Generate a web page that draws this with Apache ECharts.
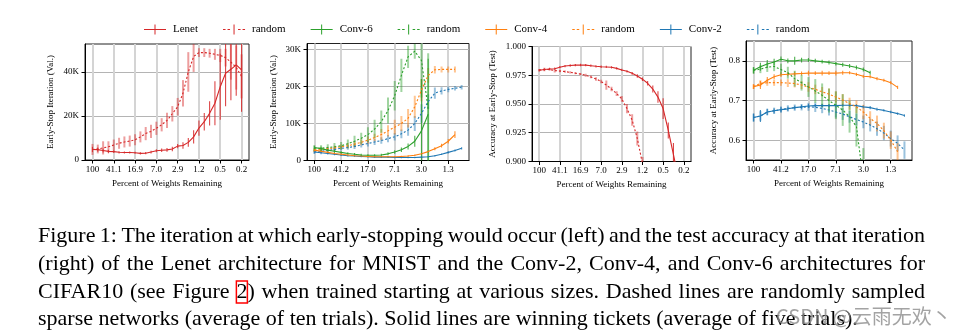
<!DOCTYPE html>
<html><head><meta charset="utf-8">
<script src="https://cdn.jsdelivr.net/npm/echarts@6/dist/echarts.min.js"></script>
<style>html,body{margin:0;padding:0;background:#fff}#c{width:974px;height:333px}</style>
</head><body><div id="c"></div>
<script>
// ---------- tick labels ----------
const lenetTicks = ['100','41.1','16.9','7.0','2.9','1.2','0.5','0.2'];
const convTicks = ['100','41.2','17.0','7.1','3.0','1.3'];
const iterTicksLenet = [0,20,40];
const iterTicksConv = [0,10,20,30];
const accTicksLenet = [0.9,0.925,0.95,0.975,1.0];
const accTicksConv = [0.6,0.7,0.8];

// ---------- Panel 1: Lenet early-stop iteration (K) ----------
const lenetIter = [4.8,4.7,4.3,3.9,3.8,3.5,3.4,3.4,3.3,3.0,3.1,3.6,4.2,4.4,4.6,5.0,6.3,6.6,8.0,10.5,14.5,17.4,21.2,25.8,33.3,39.4,41.2,43.2,40.9];
const lenetIterErr = [1.2,1.0,0.9,0.8,0.6,0.5,0.5,0.5,0.5,0.5,0.5,0.6,0.7,0.8,0.9,1.0,1.0,1.5,2.0,3.0,3.5,4.0,5.5,10.0,15.0,15.0,14.0,14.0,19.0];
const lenetIterRand = [4.8,5.0,5.5,6.0,6.8,7.6,8.2,8.6,9.2,10.5,12.0,13.0,14.4,16.0,18.0,21.0,24.2,30.3,40.0,47.0,48.8,48.8,48.5,48.0,47.5,46.5,44.5,42.0,38.0];
const lenetIterRandErr = [2.5,2.0,3.0,2.5,2.5,2.5,2.5,2.5,2.5,2.5,3.0,3.0,3.0,3.0,3.5,3.5,4.0,6.0,9.0,7.0,2.0,2.0,2.0,2.5,3.0,4.0,8.0,10.0,10.0];

// ---------- Panel 2: Conv early-stop iteration (K) ----------
const conv6Iter = [3.5,3.2,2.8,2.5,2.2,1.9,1.7,1.5,1.4,1.4,1.5,1.8,2.3,2.9,3.8,5.2,8.0,12.5];
const conv6IterErr = [0.5,0.5,0.4,0.4,0.3,0.3,0.3,0.3,0.3,0.3,0.3,0.4,0.5,0.6,0.8,1.5,14,15];
const conv6IterRand = [3.3,3.3,3.5,3.7,4.0,4.5,5.2,6.0,7.0,8.5,10.5,13.5,17.5,23.0,28.0,29.5,27.0,14.0];
const conv6IterRandErr = [0.8,0.8,0.9,1.0,1.0,1.2,1.5,1.5,2.0,2.5,3.0,3.5,4.0,4.5,3.0,2.0,10,15];
const conv4Iter = [2.8,2.5,2.2,1.9,1.7,1.5,1.3,1.2,1.1,1.0,1.0,1.0,1.0,1.1,1.2,1.4,1.8,2.4,3.2,4.0,5.2,7.0];
const conv4IterErr = [0.4,0.4,0.3,0.3,0.3,0.2,0.2,0.2,0.2,0.2,0.2,0.2,0.2,0.2,0.2,0.2,0.3,0.3,0.4,0.5,0.6,0.9];
const conv4IterRand = [2.8,3.0,3.2,3.4,3.7,4.0,4.4,4.9,5.5,6.2,7.0,8.0,9.0,10.0,11.4,14.5,19.0,23.0,24.5,24.6,24.6,24.6];
const conv4IterRandErr = [0.5,0.5,0.5,0.6,0.6,0.7,0.8,0.8,1.0,1.0,1.5,1.5,2.0,2.0,2.5,3.0,3.0,2.0,1.0,0.8,0.8,0.8];
const conv2Iter = [2.3,2.1,1.9,1.7,1.5,1.3,1.2,1.1,1.0,0.9,0.9,0.9,0.8,0.8,0.8,0.8,0.9,1.0,1.3,1.7,2.2,2.7,3.3];
const conv2IterErr = [0.4,0.4,0.3,0.3,0.3,0.2,0.2,0.2,0.2,0.2,0.2,0.2,0.2,0.2,0.2,0.2,0.2,0.2,0.2,0.2,0.3,0.3,0.3];
const conv2IterRand = [2.3,2.5,2.7,3.0,3.3,3.5,3.8,4.2,4.6,5.0,5.4,5.9,6.4,7.2,8.2,10.0,12.7,15.9,18.2,18.8,19.2,19.5,19.8];
const conv2IterRandErr = [0.5,0.5,0.5,0.6,0.6,0.6,0.7,0.7,0.8,0.8,0.9,1.0,1.0,1.2,1.5,2.0,2.5,2.0,1.5,1.0,0.8,0.6,0.6];

// ---------- Panel 3: Lenet accuracy ----------
const lenetAcc = [0.9793,0.9800,0.9805,0.9807,0.9820,0.9830,0.9835,0.9838,0.9839,0.9838,0.9833,0.9828,0.9824,0.9822,0.9819,0.9810,0.9796,0.9784,0.9767,0.9744,0.9716,0.9680,0.9630,0.9560,0.9460,0.9270,0.9060,0.8850];
const lenetAccErr = [0.001,0.001,0.001,0.001,0.001,0.001,0.001,0.001,0.001,0.001,0.001,0.001,0.001,0.001,0.001,0.001,0.001,0.001,0.0012,0.0015,0.0015,0.002,0.003,0.005,0.009,0.007,0.010,0.012];
const lenetAccRand = [0.9795,0.9800,0.9800,0.9790,0.9787,0.9782,0.9775,0.9768,0.9760,0.9750,0.9735,0.9718,0.9695,0.9665,0.9630,0.9590,0.9545,0.9460,0.9360,0.9200,0.8980];
const lenetAccRandErr = [0.001,0.0015,0.001,0.0015,0.001,0.001,0.001,0.001,0.001,0.0012,0.0012,0.0015,0.0015,0.004,0.002,0.002,0.0025,0.004,0.005,0.006,0.006];

// ---------- Panel 4: Conv accuracy ----------
const conv6Acc = [0.776,0.785,0.792,0.797,0.804,0.800,0.800,0.802,0.802,0.800,0.798,0.796,0.793,0.790,0.787,0.783,0.778,0.770];
const conv6AccErr = [0.008,0.010,0.010,0.008,0.007,0.006,0.010,0.006,0.005,0.005,0.005,0.005,0.005,0.005,0.005,0.005,0.005,0.005];
const conv6AccRand = [0.776,0.779,0.784,0.786,0.778,0.770,0.755,0.745,0.734,0.724,0.713,0.700,0.688,0.676,0.659,0.634,0.500];
const conv6AccRandErr = [0.008,0.010,0.012,0.012,0.015,0.015,0.020,0.020,0.025,0.030,0.030,0.030,0.035,0.040,0.040,0.050,0.080];
const conv4Acc = [0.735,0.739,0.751,0.760,0.765,0.766,0.767,0.768,0.769,0.769,0.769,0.769,0.769,0.770,0.770,0.766,0.761,0.760,0.755,0.751,0.745,0.733];
const conv4AccErr = [0.006,0.010,0.008,0.006,0.006,0.005,0.006,0.005,0.006,0.005,0.006,0.005,0.006,0.005,0.004,0.004,0.004,0.004,0.004,0.004,0.004,0.004];
const conv4AccRand = [0.735,0.743,0.745,0.745,0.745,0.744,0.743,0.739,0.734,0.728,0.722,0.716,0.709,0.701,0.692,0.684,0.671,0.655,0.642,0.624,0.600,0.571];
const conv4AccRandErr = [0.006,0.008,0.008,0.008,0.008,0.010,0.010,0.010,0.012,0.012,0.012,0.014,0.014,0.015,0.015,0.016,0.018,0.018,0.020,0.020,0.022,0.022];
const conv2Acc = [0.657,0.661,0.671,0.674,0.677,0.679,0.682,0.684,0.686,0.687,0.687,0.687,0.687,0.688,0.688,0.687,0.684,0.682,0.678,0.675,0.671,0.667,0.662];
const conv2AccErr = [0.010,0.015,0.008,0.006,0.006,0.005,0.005,0.005,0.005,0.004,0.004,0.004,0.004,0.004,0.004,0.004,0.004,0.004,0.004,0.003,0.003,0.003,0.003];
const conv2AccRand = [0.657,0.661,0.671,0.674,0.677,0.680,0.682,0.683,0.684,0.683,0.680,0.676,0.671,0.666,0.659,0.652,0.646,0.638,0.629,0.618,0.604,0.592,0.575];
const conv2AccRandErr = [0.010,0.012,0.008,0.008,0.008,0.008,0.008,0.008,0.010,0.012,0.012,0.014,0.014,0.015,0.015,0.015,0.016,0.016,0.018,0.018,0.020,0.020,0.022];

// ---------- caption text ----------
const captionLines = [
  'Figure 1: The iteration at which early-stopping would occur (left) and the test accuracy at that iteration',
  '(right) of the Lenet architecture for MNIST and the Conv-2, Conv-4, and Conv-6 architectures for',
  'CIFAR10 (see Figure 2) when trained starting at various sizes. Dashed lines are randomly sampled',
  'sparse networks (average of ten trials). Solid lines are winning tickets (average of five trials).'
];
const watermark = 'CSDN @云雨无欢丶';

// ---------- styling ----------
const RED='#d62728', GREEN='#2ca02c', ORANGE='#ff7f0e', BLUE='#1f77b4';
const SERIF = 'Liberation Serif';
const chart = echarts.init(document.getElementById('c'), null, {renderer:'canvas'});

const gridsPos = [
  {left:85, top:44, width:164, height:116},
  {left:307, top:43.5, width:162, height:117},
  {left:532, top:46.5, width:159, height:115},
  {left:746, top:41, width:166, height:119}
];

function xAxisCfg(g, ticks, min, max) {
  const vals = ticks.map((t,i)=>i*4);
  return {
    type:'value', gridIndex:g, min, max,
    axisLine:{show:true, onZero:false, lineStyle:{color:'#000', width:1}},
    axisTick:{show:true, customValues:vals, length:3.5, lineStyle:{color:'#000', width:1}},
    axisLabel:{customValues:vals, formatter:v=>ticks[Math.round(v/4)], fontFamily:SERIF, fontSize:9, color:'#000', margin:5},
    splitLine:{show:true, lineStyle:{color:'#d4d4d4', width:2}},
    name:'Percent of Weights Remaining', nameLocation:'middle', nameGap:19,
    nameTextStyle:{fontFamily:SERIF, fontSize:9, color:'#000'}
  };
}
function yAxisCfg(g, ticks, min, max, fmt, name, gap) {
  return {
    type:'value', gridIndex:g, min, max,
    axisLine:{show:true, onZero:false, lineStyle:{color:'#000', width:1}},
    axisTick:{show:true, customValues:ticks, length:3.5, lineStyle:{color:'#000', width:1}},
    axisLabel:{customValues:ticks, formatter:fmt, fontFamily:SERIF, fontSize:9, color:'#000', margin:6},
    splitLine:{show:true, lineStyle:{color:'#b4b4b4', width:1}},
    name, nameLocation:'middle', nameGap:gap,
    nameTextStyle:{fontFamily:SERIF, fontSize:9, color:'#000'}
  };
}
const kFmt = v => v===0 ? '0' : Math.round(v)+'K';

const series = [];
function addLine(g, name, color, dashed, vals, errs) {
  series.push({
    type:'custom', name, xAxisIndex:g, yAxisIndex:g, clip:true, silent:true, z:2,
    data: vals.map((v,i)=>[i, v-errs[i], v+errs[i]]),
    encode:{x:0, y:[1,2]},
    renderItem:(p, api)=>{
      const a = api.coord([api.value(0), api.value(1)]);
      const b = api.coord([api.value(0), api.value(2)]);
      return {type:'line', shape:{x1:a[0], y1:a[1], x2:b[0], y2:b[1]},
        style:{stroke:color, lineWidth: dashed?2:1.1, opacity: dashed?0.45:0.85}};
    }
  });
  series.push({
    type:'line', name, xAxisIndex:g, yAxisIndex:g, clip:true, silent:true, z:3,
    data: vals.map((v,i)=>[i,v]), symbol:'none',
    lineStyle:{color, width:1.1, type: dashed ? [2,2] : 'solid'},
    itemStyle:{color}
  });
}
addLine(0,'random|r',RED,true,lenetIterRand,lenetIterRandErr);
addLine(0,'Lenet',RED,false,lenetIter,lenetIterErr);

addLine(1,'random|b',BLUE,true,conv2IterRand,conv2IterRandErr);
addLine(1,'Conv-2',BLUE,false,conv2Iter,conv2IterErr);
addLine(1,'random|o',ORANGE,true,conv4IterRand,conv4IterRandErr);
addLine(1,'Conv-4',ORANGE,false,conv4Iter,conv4IterErr);
addLine(1,'random|g',GREEN,true,conv6IterRand,conv6IterRandErr);
addLine(1,'Conv-6',GREEN,false,conv6Iter,conv6IterErr);

addLine(2,'random|r',RED,true,lenetAccRand,lenetAccRandErr);
addLine(2,'Lenet',RED,false,lenetAcc,lenetAccErr);

addLine(3,'random|b',BLUE,true,conv2AccRand,conv2AccRandErr);
addLine(3,'Conv-2',BLUE,false,conv2Acc,conv2AccErr);
addLine(3,'random|o',ORANGE,true,conv4AccRand,conv4AccRandErr);
addLine(3,'Conv-4',ORANGE,false,conv4Acc,conv4AccErr);
addLine(3,'random|g',GREEN,true,conv6AccRand,conv6AccRandErr);
addLine(3,'Conv-6',GREEN,false,conv6Acc,conv6AccErr);

const solidIcon = 'path://M0,4.5H22V5.5H0Z M10.5,0H11.5V10H10.5Z';
const dashIcon = 'path://M0,4.5H2.5V5.5H0Z M4.5,4.5H7V5.5H4.5Z M10.5,0H11.5V10H10.5Z M15,4.5H17.5V5.5H15Z M19.5,4.5H22V5.5H19.5Z';
const legendItems = [
  ['Lenet',RED,solidIcon],['random|r',RED,dashIcon],
  ['Conv-6',GREEN,solidIcon],['random|g',GREEN,dashIcon],
  ['Conv-4',ORANGE,solidIcon],['random|o',ORANGE,dashIcon],
  ['Conv-2',BLUE,solidIcon],['random|b',BLUE,dashIcon]
];

// justified caption layout (word placement only)
const captionFont = '22px "Liberation Serif"';
const capLeft = 38, capRight = 925, capTops = [225, 253, 281, 308];
function captionGraphics() {
  const ctx = document.createElement('canvas').getContext('2d');
  ctx.font = captionFont;
  const els = [];
  const spaceW = ctx.measureText(' ').width;
  captionLines.forEach((line, li) => {
    const words = line.split(' ');
    const widths = words.map(w => ctx.measureText(w).width);
    const total = widths.reduce((a,b)=>a+b, 0);
    const justify = li < captionLines.length - 1;
    const gap = justify ? (capRight - capLeft - total) / (words.length - 1) : spaceW;
    let x = capLeft;
    words.forEach((w, i) => {
      let style;
      if (w === '2)') {
        style = {text:'{b|2}{a|)}', rich:{a:{font:captionFont, fill:'#000'},
          b:{font:captionFont, fill:'#000', borderColor:'#ff0000', borderWidth:1.5, padding:[0,0,0,0]}}};
      } else {
        style = {text:w};
      }
      els.push({type:'text', x, y:capTops[li], silent:true,
        style:Object.assign({font:captionFont, fill:'#000', verticalAlign:'top', align:'left'}, style)});
      x += widths[i] + gap;
    });
  });
  els.push({type:'text', x:776, y:306, silent:true, z:10,
    style:{text:watermark, font:'20px "Noto Sans CJK SC"', fill:'rgba(140,140,140,0.8)', verticalAlign:'top'}});
  return els;
}

const option = {
  animation:false,
  backgroundColor:'#fff',
  legend:{
    left:144, top:24, itemWidth:22, itemHeight:10, itemGap:25, padding:0,
    data: legendItems.map(([n,c,ic])=>({name:n, icon:ic, itemStyle:{color:c, borderWidth:0}})),
    formatter: n => n.split('|')[0],
    textStyle:{fontFamily:SERIF, fontSize:11, color:'#000', padding:[0,0,0,2]},
    selectedMode:false
  },
  grid: gridsPos.map(p=>Object.assign({show:true, borderColor:'#222', borderWidth:1, backgroundColor:'transparent'}, p)),
  xAxis:[
    xAxisCfg(0, lenetTicks, -1.4, 29.4),
    xAxisCfg(1, convTicks, -1.1, 23.1),
    xAxisCfg(2, lenetTicks, -1.4, 29.4),
    xAxisCfg(3, convTicks, -1.1, 23.1)
  ],
  yAxis:[
    yAxisCfg(0, iterTicksLenet, 0, 52.7, kFmt, 'Early-Stop Iteration (Val.)', 30),
    yAxisCfg(1, iterTicksConv, 0, 31.6, kFmt, 'Early-Stop Iteration (Val.)', 29),
    yAxisCfg(2, accTicksLenet, 0.9, 1.0, v=>v.toFixed(3), 'Accuracy at Early-Stop (Test)', 35),
    yAxisCfg(3, accTicksConv, 0.55, 0.85, v=>v.toFixed(1), 'Accuracy at Early-Stop (Test)', 28)
  ],
  series,
  graphic: captionGraphics()
};
chart.setOption(option);
</script></body></html>
